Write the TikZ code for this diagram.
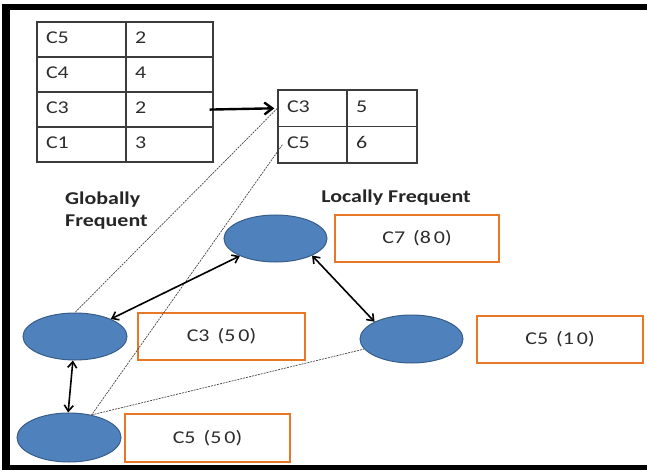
\documentclass[tikz,border=0pt]{standalone}
\usepackage{fontspec}
\setmainfont{Carlito}[FakeStretch=1.22]
\usetikzlibrary{arrows.meta,shapes.geometric}
\definecolor{eblue}{RGB}{79,129,189}
\definecolor{eline}{RGB}{56,93,138}
\definecolor{bor}{RGB}{232,120,40}
\definecolor{tline}{RGB}{60,60,60}
\definecolor{txt}{RGB}{45,45,45}
\definecolor{dline}{RGB}{70,70,70}
\begin{document}
\begin{tikzpicture}[x=1pt,y=-1pt,
  font=\fontsize{18}{21}\selectfont,
  cell/.style={draw=tline, line width=1.3pt, text width=#1, align=left,
    inner xsep=9pt, inner ysep=0pt, text=txt, text height=12pt, text depth=4pt},
  ell/.style={ellipse, fill=eblue, draw=eline, line width=1pt, inner sep=0pt},
  obox/.style={draw=bor, line width=2pt, inner sep=0pt, text=txt},
  dbl/.style={{Straight Barb[length=6pt,width=9pt]}-{Straight Barb[length=6pt,width=9pt]}, line width=1.6pt, black},
  dsh/.style={draw=dline, line width=0.7pt, dash pattern=on 2pt off 1pt},
  lbl/.style={font=\fontsize{18}{22}\selectfont\bfseries, text=black!85, inner sep=0pt}
]
\useasboundingbox (0,0) rectangle (647,470);
% frame
\fill[black] (2,4) rectangle (647,10);
\fill[black] (2,4) rectangle (10,470);
\fill[black] (2,465) rectangle (647,470);

% table 1
\node[cell=71pt, minimum height=35pt] (t1r1a) at (81.5,39.5) {C5};
\node[cell=69pt, minimum height=35pt] (t1r1b) at (169.5,39.5) {2};
\node[cell=71pt, minimum height=35pt] (t1r2a) at (81.5,74.5) {C4};
\node[cell=69pt, minimum height=35pt] (t1r2b) at (169.5,74.5) {4};
\node[cell=71pt, minimum height=35pt] (t1r3a) at (81.5,109.5) {C3};
\node[cell=69pt, minimum height=35pt] (t1r3b) at (169.5,109.5) {2};
\node[cell=71pt, minimum height=35pt] (t1r4a) at (81.5,144.5) {C1};
\node[cell=69pt, minimum height=35pt] (t1r4b) at (169.5,144.5) {3};

% table 2
\node[cell=51pt, minimum height=36.5pt] (t2r1a) at (312.5,108.25) {C3};
\node[cell=52pt, minimum height=36.5pt] (t2r1b) at (382,108.25) {5};
\node[cell=51pt, minimum height=36.5pt] (t2r2a) at (312.5,144.75) {C5};
\node[cell=52pt, minimum height=36.5pt] (t2r2b) at (382,144.75) {6};

\draw[-{Straight Barb[length=8pt,width=12pt]}, line width=2.4pt, shorten <=-4pt, shorten >=3pt] (t1r3b.east) -- (t2r1a.west);

% labels
\node[lbl, align=left, anchor=west] (glob) at (65,211) {Globally\\Frequent};
\node[lbl] (loc) at (396,198) {Locally Frequent};

% ellipses
\node[ell, minimum width=103pt, minimum height=47pt] (e7) at (275.5,238.5) {};
\node[ell, minimum width=104pt, minimum height=47pt] (e3) at (75,336.5) {};
\node[ell, minimum width=104pt, minimum height=49pt] (e5a) at (69,437.5) {};
\node[ell, minimum width=103pt, minimum height=48pt] (e5b) at (411.5,339) {};

% boxes
\node[obox, minimum width=164pt, minimum height=47pt] (b7) at (417,238.5) {C7\hspace{8pt}(8\,0)};
\node[obox, minimum width=167pt, minimum height=47pt] (b3) at (221.5,336.5) {C3\hspace{8pt}(5\,0)};
\node[obox, minimum width=165pt, minimum height=48pt] (b5a) at (207.5,438) {C5\hspace{8pt}(5\,0)};
\node[obox, minimum width=166pt, minimum height=47pt] (b5b) at (560,339.5) {C5\hspace{8pt}(1\,0)};

% dashed connectors
\draw[dsh] (t2r1a.west) -- (e3.north);
\draw[dsh] ([xshift=5pt]t2r2a.west) -- (e5a.45);
\draw[dsh] (e5a.45) -- (e5b.192);

% double arrows
\draw[dbl] (e7) -- (e3);
\draw[dbl] (e7.335) -- (e5b.155);
\draw[dbl] (e3.265) -- (e5a.92);
\end{tikzpicture}
\end{document}
